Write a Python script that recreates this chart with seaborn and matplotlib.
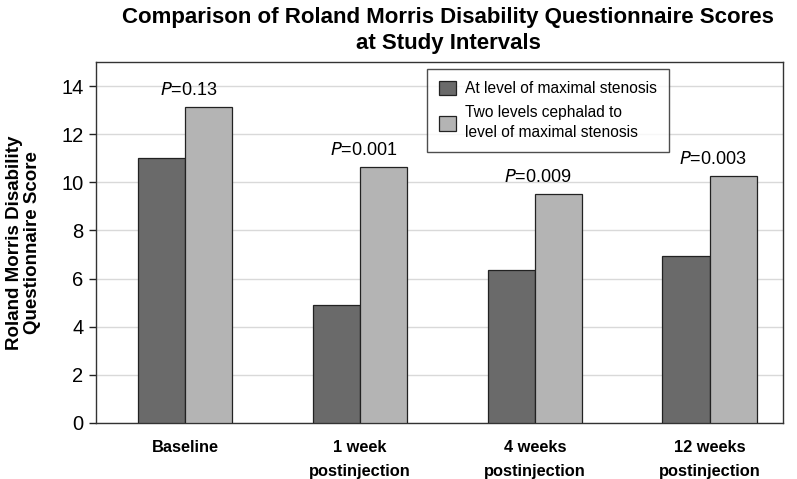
import pandas as pd
import matplotlib
matplotlib.use("Agg")
import matplotlib.pyplot as plt
import seaborn as sns

# values
categories = ["Baseline", "1 week\npostinjection", "4 weeks\npostinjection", "12 weeks\npostinjection"]
series_names = ["At level of maximal stenosis", "Two levels cephalad to\nlevel of maximal stenosis"]
at_level = [11.0, 4.9, 6.35, 6.93]
two_levels = [13.12, 10.62, 9.5, 10.26]
p_labels = ["0.13", "0.001", "0.009", "0.003"]

df = pd.DataFrame({
    "interval": categories * 2,
    "group": [series_names[0]] * 4 + [series_names[1]] * 4,
    "score": at_level + two_levels,
})

sns.set_style("white")
plt.rcParams["font.family"] = ["Liberation Sans", "DejaVu Sans"]
plt.rcParams["text.color"] = "black"
plt.rcParams["axes.labelcolor"] = "black"
plt.rcParams["ytick.color"] = "#222222"
plt.rcParams["ytick.labelcolor"] = "black"
bold_font = ["Liberation Sans", "DejaVu Sans"]

fig = plt.figure(figsize=(7.97, 4.79), dpi=100)
ax = fig.add_axes([96 / 797, 1 - 423 / 479, (783 - 96) / 797, (423 - 62) / 479])

sns.barplot(data=df, x="interval", y="score", hue="group", order=categories,
            hue_order=series_names, palette=["#6a6a6a", "#b4b4b4"], width=0.54,
            edgecolor="#222222", linewidth=0.9, ax=ax, zorder=3)

ax.set_xlim(-0.51, 3.42)
ax.set_ylim(0, 15)
ax.set_yticks(range(0, 15, 2))
ax.yaxis.grid(True, color="#d9d9d9", linewidth=1, zorder=0)
ax.set_axisbelow(True)
for s in ax.spines.values():
    s.set_visible(True)
    s.set_color("#333333")
    s.set_linewidth(1.0)

ax.tick_params(axis="y", which="both", left=True, length=5, width=1,
               labelsize=14.5, pad=4)
ax.tick_params(axis="x", bottom=False, pad=9, labelcolor="black")
ax.set_xticks(range(len(categories)))
ax.set_xticklabels(categories, fontsize=11.8, fontweight="bold", family=bold_font,
                   linespacing=1.75)

ax.set_xlabel("")
ax.set_ylabel("Roland Morris Disability\nQuestionnaire Score", fontsize=13.5, fontweight="bold",
              family=bold_font, linespacing=1.1)
ax.yaxis.set_label_coords(-0.08, 0.5)

# P-value annotations above each pair
for i, p in enumerate(p_labels):
    top = max(at_level[i], two_levels[i]) + 0.35
    ax.annotate("$\\it{P}$=" + p, xy=(i + 0.02, top), ha="center", va="bottom",
                fontsize=13, color="black")

leg = ax.legend(loc="upper left", bbox_to_anchor=(0.482, 0.981), frameon=True,
                fontsize=11.2, handlelength=1.1, handleheight=1.1, handletextpad=0.6,
                borderpad=0.75, labelspacing=0.55, fancybox=False, borderaxespad=0)
leg.get_frame().set_edgecolor("#222222")
leg.get_frame().set_linewidth(1.0)
for t in leg.get_texts():
    t.set_linespacing(1.45)

fig.text(448 / 797, 1 - 18 / 479, "Comparison of Roland Morris Disability Questionnaire Scores",
         ha="center", va="center", fontsize=16, fontweight="bold", family=bold_font)
fig.text(448 / 797, 1 - 43 / 479, "at Study Intervals",
         ha="center", va="center", fontsize=16, fontweight="bold", family=bold_font)

fig.savefig("out.png", dpi=100)
